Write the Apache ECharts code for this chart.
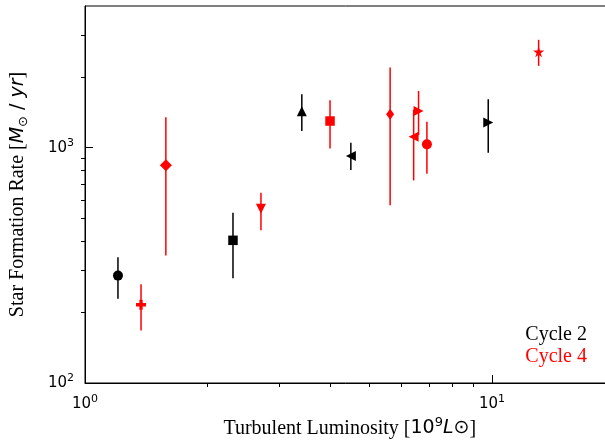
<!DOCTYPE html>
<html>
<head>
<meta charset="utf-8">
<script src="https://cdn.jsdelivr.net/npm/echarts@6/dist/echarts.min.js"></script>
<style>
  html, body { margin: 0; padding: 0; background: #fff; }
  #chart { width: 605px; height: 446px; }
</style>
</head>
<body>
<div id="chart"></div>
<script>
// Cycle 2 (black)
var c2X = [1.205, 2.31, 3.41, 4.50, 9.79];
var c2Y = [286, 404, 1428, 921, 1278];
var c2Lo = [228, 279, 1177, 803, 952];
var c2Hi = [342, 529, 1687, 1050, 1606];
var c2Marker = ['o', 's', '^', '<', '>'];

// Cycle 4 (red)
var c4X = [1.373, 1.58, 2.706, 4.0, 5.62, 6.60, 6.42, 6.92, 13.02];
var c4Y = [215, 843, 550, 1298, 1387, 1432, 1114, 1033, 2554];
var c4Lo = [167, 348, 446, 993, 569, 1130, 726, 775, 2227];
var c4Hi = [263, 1346, 643, 1590, 2190, 1742, 1450, 1290, 2874];
var c4Marker = ['P', 'D', 'v', 's', 'd', '>', '<', 'o', '*'];

// ticks
var xMajor = [1, 10];
var xMinor = [2, 3, 4, 5, 6, 7, 8, 9, 20];
var yMajor = [100, 1000];
var yMinor = [200, 300, 400, 500, 600, 700, 800, 900, 2000, 3000];

var symbols = {
  'o': {symbol: 'circle', size: 10},
  's': {symbol: 'rect', size: 9.5},
  '^': {symbol: 'path://M1,0L2,2L0,2Z', size: 10},
  'v': {symbol: 'path://M0,0L2,0L1,2Z', size: 10},
  '<': {symbol: 'path://M0,1L2,0L2,2Z', size: 10},
  '>': {symbol: 'path://M0,0L2,1L0,2Z', size: 10},
  'D': {symbol: 'diamond', size: 12},
  'd': {symbol: 'diamond', size: [8, 11]},
  'P': {symbol: 'path://M1,0H2V1H3V2H2V3H1V2H0V1H1Z', size: 10},
  '*': {symbol: 'path://M50,0L61,35L98,35L68,57L79,91L50,70L21,91L32,57L2,35L39,35Z', size: 11}
};

function points(xs, ys, marks) {
  return xs.map(function (x, i) {
    var s = symbols[marks[i]];
    return {value: [x, ys[i]], symbol: s.symbol, symbolSize: s.size};
  });
}

function bars(xs, lo, hi) {
  return xs.map(function (x, i) { return [x, lo[i], hi[i]]; });
}

function errorSeries(data, color) {
  return {
    type: 'custom',
    xAxisIndex: 0,
    yAxisIndex: 0,
    data: data,
    encode: {x: 0, y: [1, 2]},
    z: 2,
    renderItem: function (params, api) {
      var p1 = api.coord([api.value(0), api.value(1)]);
      var p2 = api.coord([api.value(0), api.value(2)]);
      return {
        type: 'line',
        shape: {x1: p1[0], y1: p1[1], x2: p2[0], y2: p2[1]},
        style: {stroke: color, lineWidth: 1.5}
      };
    }
  };
}

var tickRich = {
  b: {fontFamily: 'DejaVu Sans', fontSize: 15, color: '#000', lineHeight: 20},
  s: {fontFamily: 'DejaVu Sans', fontSize: 11, color: '#000', lineHeight: 12, verticalAlign: 'top'}
};
function powLabel(v) {
  return '{b|10}{s|' + Math.round(Math.log10(v)) + '}';
}

var nameRich = {
  t: {fontFamily: 'Liberation Serif', fontSize: 20, color: '#000', lineHeight: 24},
  n: {fontFamily: 'DejaVu Sans', fontSize: 19, color: '#000', lineHeight: 24},
  i: {fontFamily: 'DejaVu Sans', fontStyle: 'italic', fontSize: 19, color: '#000', lineHeight: 24},
  sp: {fontFamily: 'DejaVu Sans', fontSize: 13, color: '#000', lineHeight: 14, verticalAlign: 'top'},
  sb: {fontFamily: 'DejaVu Sans', fontSize: 13, color: '#000', lineHeight: 14, verticalAlign: 'bottom'}
};

var mychart = echarts.init(document.getElementById('chart'), null, {renderer: 'canvas'});

var option = {
  animation: false,
  backgroundColor: '#fff',
  grid: {
    left: 85,
    top: 6,
    bottom: 63,
    right: -9.5,
    show: true,
    borderColor: '#000',
    borderWidth: 1,
    backgroundColor: 'transparent',
    outerBoundsMode: 'none'
  },
  xAxis: [{
    type: 'log',
    logBase: 10,
    min: 1,
    max: 20,
    position: 'bottom',
    axisLine: {lineStyle: {color: '#000', width: 1}},
    axisTick: {show: true, inside: true, length: 8, customValues: xMajor, lineStyle: {color: '#000'}},
    minorTick: {show: false},
    axisLabel: {customValues: xMajor, formatter: powLabel, rich: tickRich, margin: 11},
    splitLine: {show: false},
    name: '{t|Turbulent Luminosity [}{n|10}{sp|9}{i|L}{n|⊙}{t|]}',
    nameLocation: 'middle',
    nameGap: 24,
    nameTextStyle: {rich: nameRich}
  }, {
    type: 'log',
    logBase: 10,
    min: 1,
    max: 20,
    position: 'bottom',
    axisLine: {show: false},
    axisTick: {show: true, inside: false, length: 4, customValues: xMinor, lineStyle: {color: '#000'}},
    minorTick: {show: false},
    axisLabel: {show: false},
    splitLine: {show: false}
  }],
  yAxis: [{
    type: 'log',
    logBase: 10,
    min: 100,
    max: 4000,
    position: 'left',
    axisLine: {lineStyle: {color: '#000', width: 1}},
    axisTick: {show: true, inside: true, length: 8, customValues: yMajor, lineStyle: {color: '#000'}},
    minorTick: {show: false},
    axisLabel: {customValues: yMajor, formatter: powLabel, rich: tickRich, margin: 11},
    splitLine: {show: false},
    name: '{t|Star Formation Rate [}{i|M}{sb|⊙}{n| / }{i|yr}{t|]}',
    nameLocation: 'middle',
    nameRotate: 90,
    nameGap: 55,
    nameTextStyle: {rich: nameRich}
  }, {
    type: 'log',
    logBase: 10,
    min: 100,
    max: 4000,
    position: 'left',
    axisLine: {show: false},
    axisTick: {show: true, inside: false, length: 4, customValues: yMinor, lineStyle: {color: '#000'}},
    minorTick: {show: false},
    axisLabel: {show: false},
    splitLine: {show: false}
  }],
  graphic: [{
    type: 'text',
    right: 18,
    top: 325,
    style: {text: 'Cycle 2', fill: '#000', font: '20px "Liberation Serif"'}
  }, {
    type: 'text',
    right: 18,
    top: 347,
    style: {text: 'Cycle 4', fill: '#ff0000', font: '20px "Liberation Serif"'}
  }],
  series: [
    errorSeries(bars(c2X, c2Lo, c2Hi), '#000'),
    errorSeries(bars(c4X, c4Lo, c4Hi), '#ff0000'),
    {
      type: 'scatter',
      xAxisIndex: 0,
      yAxisIndex: 0,
      z: 3,
      itemStyle: {color: '#000', opacity: 1},
      data: points(c2X, c2Y, c2Marker)
    },
    {
      type: 'scatter',
      xAxisIndex: 0,
      yAxisIndex: 0,
      z: 3,
      itemStyle: {color: '#ff0000', opacity: 1},
      data: points(c4X, c4Y, c4Marker)
    }
  ]
};

mychart.setOption(option);
</script>
</body>
</html>
